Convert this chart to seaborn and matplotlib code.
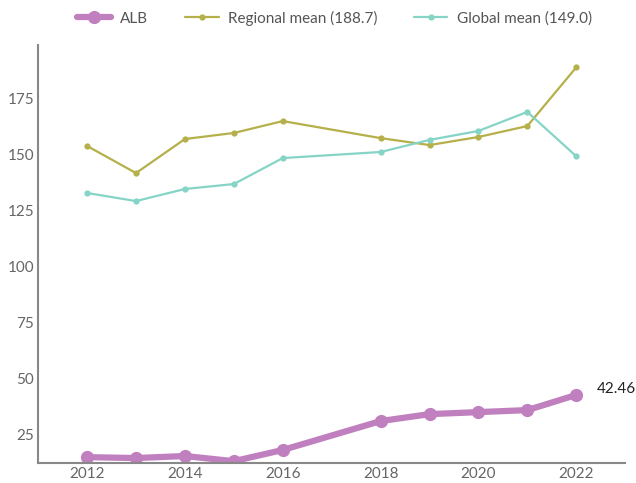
import matplotlib
matplotlib.use("Agg")
import matplotlib.pyplot as plt
import seaborn as sns
import pandas as pd

years = [2012, 2013, 2014, 2015, 2016, 2018, 2019, 2020, 2021, 2022]
alb = [14.7, 14.3, 15.2, 12.9, 17.9, 30.8, 33.9, 34.8, 35.7, 42.46]
regional = [153.6, 141.5, 156.7, 159.4, 164.7, 157.1, 154.0, 157.6, 162.5, 188.7]
global_mean = [132.6, 129.0, 134.4, 136.6, 148.2, 150.9, 156.3, 160.3, 168.8, 149.0]

sns.set_style("white")
plt.rcParams["font.family"] = ["Lato", "DejaVu Sans"]

df = pd.DataFrame({"year": years, "ALB": alb, "regional": regional, "global": global_mean})

fig = plt.figure(figsize=(6.36, 4.83), dpi=100)
ax = fig.add_axes([0.06, 0.041, 0.923, 0.866])

sns.lineplot(data=df, x="year", y="regional", ax=ax, color="#b5b04a", lw=1.6,
             marker="o", markersize=4.5, markeredgewidth=0, label="Regional mean (188.7)")
sns.lineplot(data=df, x="year", y="global", ax=ax, color="#85d4c6", lw=1.6,
             marker="o", markersize=4.5, markeredgewidth=0, label="Global mean (149.0)")
sns.lineplot(data=df, x="year", y="ALB", ax=ax, color="#c07fbf", lw=4.5,
             marker="o", markersize=9.5, markeredgewidth=0, label="ALB")

ax.annotate(f"{alb[-1]:.2f}", (years[-1], alb[-1]), xytext=(15, 4),
            textcoords="offset points", fontsize=11, color="#222222", va="center")

ax.set_xlim(2011, 2023)
ax.set_ylim(12, 198.7)
ax.set_xticks([2012, 2014, 2016, 2018, 2020, 2022])
ax.set_yticks([25, 50, 75, 100, 125, 150, 175])
ax.set_xlabel("")
ax.set_ylabel("")
ax.tick_params(axis="both", length=0, labelsize=11, labelcolor="#666666", pad=3)

for s in ["top", "right"]:
    ax.spines[s].set_visible(False)
for s in ["left", "bottom"]:
    ax.spines[s].set_color("#888888")
    ax.spines[s].set_linewidth(1.5)

handles, labels = ax.get_legend_handles_labels()
order = [2, 0, 1]
leg = fig.legend([handles[i] for i in order], [labels[i] for i in order],
                 loc="upper left", bbox_to_anchor=(0.105, 1.0), ncol=3, frameon=False,
                 fontsize=11, handlelength=2.2, handletextpad=0.6, columnspacing=2.4,
                 borderaxespad=0.3)
for t in leg.get_texts():
    t.set_color("#555555")
ax.get_legend().remove()

fig.savefig("out.png", dpi=100)
